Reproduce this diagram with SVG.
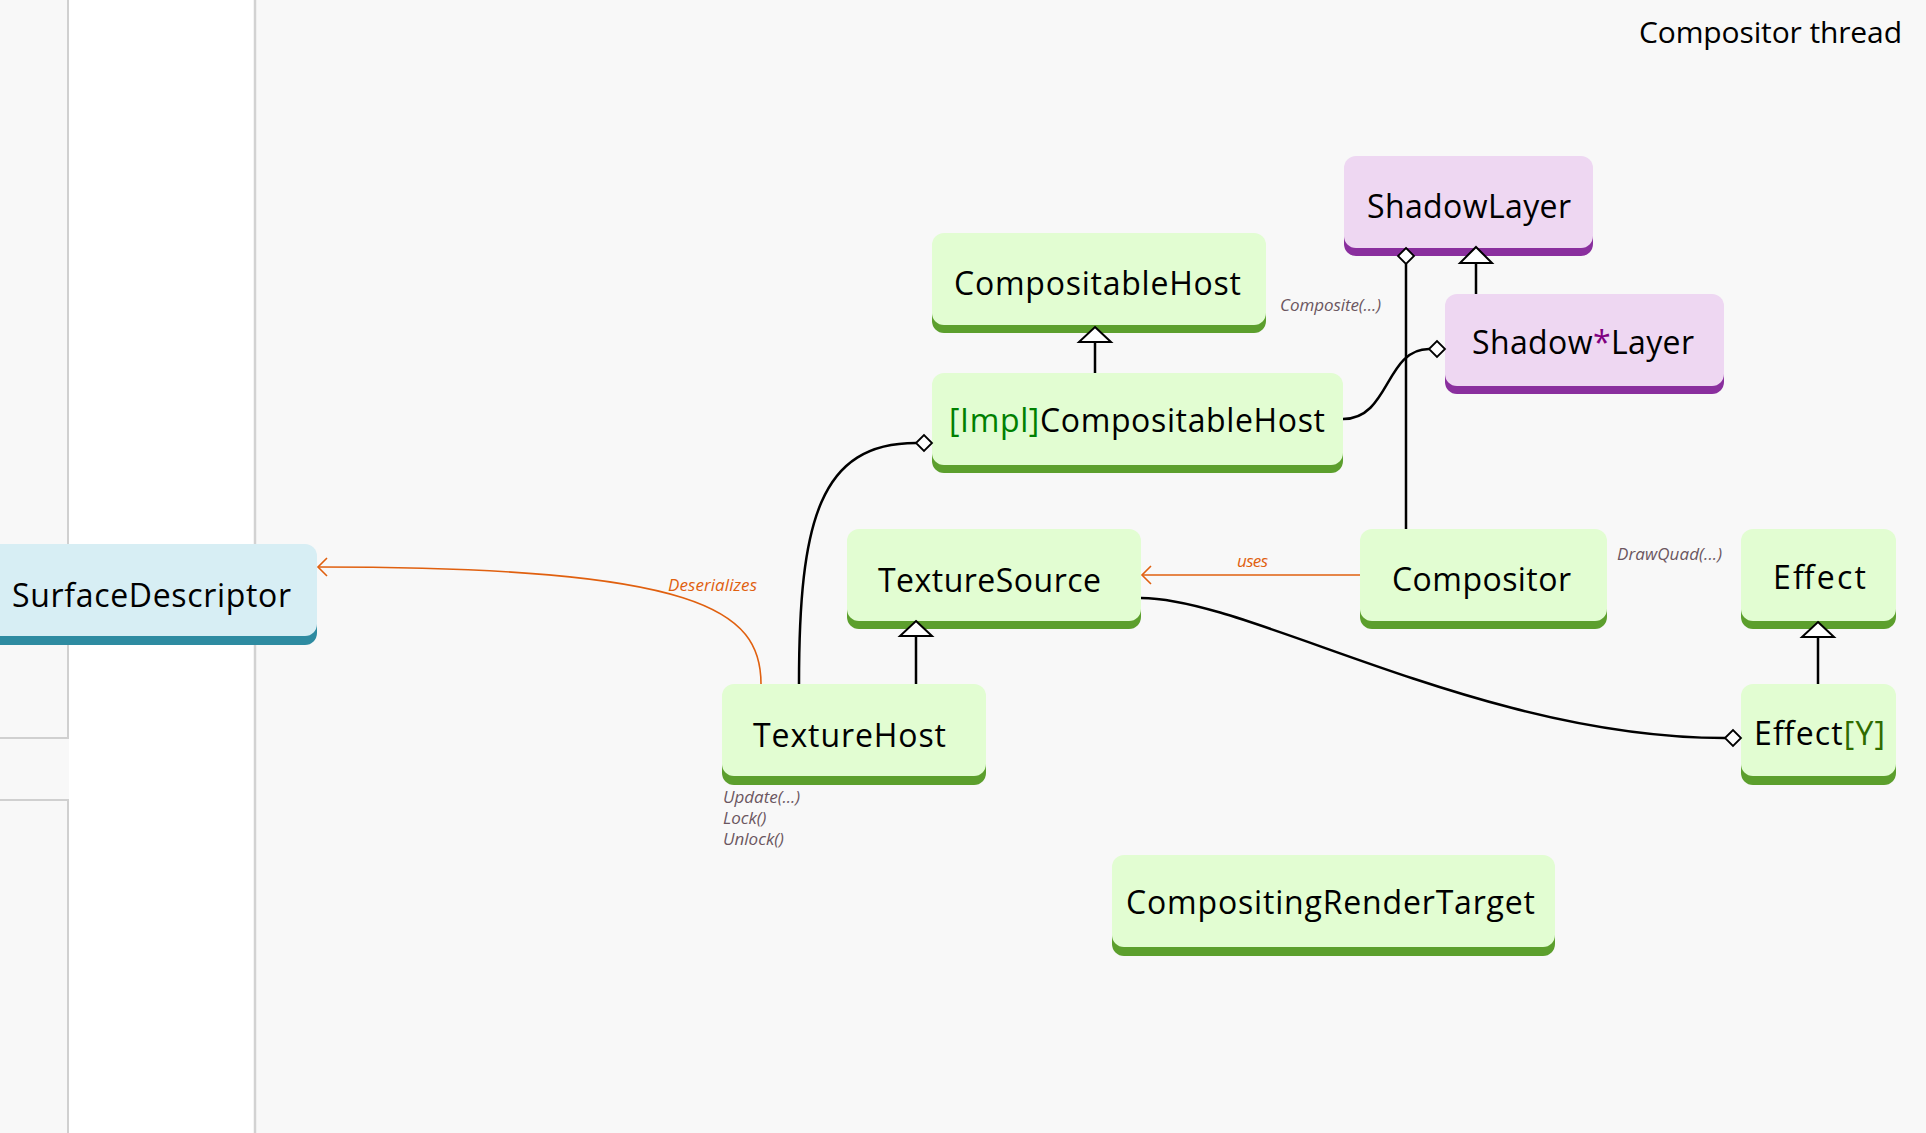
<svg xmlns="http://www.w3.org/2000/svg" width="1926" height="1133" viewBox="0 0 1926 1133">
  <defs>
    <style>
      .bg { fill: #f8f8f8; }
      .panel { fill: #f8f8f8; stroke: #d0d0d0; stroke-width: 2; }
      .col { fill: #ffffff; }
      .sep { stroke: #d2d2d2; stroke-width: 2.5; }
      .g-fill { fill: #e2fdd2; }
      .g-band { fill: #5c9f2d; }
      .p-fill { fill: #eed7f2; }
      .p-band { fill: #8a2f9e; }
      .b-fill { fill: #d7eef4; }
      .b-band { fill: #2e8ba1; }
      .name { font-family: "Open Sans", "Noto Sans", "DejaVu Sans", sans-serif; font-size: 32px; fill: #000000; }
      .title { font-family: "Open Sans", "Noto Sans", "DejaVu Sans", sans-serif; font-size: 30px; fill: #000000; }
      .impl { fill: #008000; }
      .ytag { fill: #2f6b00; }
      .star { fill: #800080; }
      .note { font-family: "Open Sans", "Noto Sans", "DejaVu Sans", sans-serif; font-size: 17px; font-style: italic; fill: #6b5660; }
      .olabel { font-family: "Open Sans", "Noto Sans", "DejaVu Sans", sans-serif; font-size: 17px; font-style: italic; fill: #e0600f; }
      .link { fill: none; stroke: #000000; stroke-width: 2.5; }
      .olink { fill: none; stroke: #e0600f; stroke-width: 1.6; }
      .tri { fill: #ffffff; stroke: #000000; stroke-width: 2; stroke-linejoin: miter; }
      .dia { fill: #ffffff; stroke: #000000; stroke-width: 1.8; }
    </style>
  </defs>

  <!-- canvas and side columns -->
  <rect class="bg" x="0" y="0" width="1926" height="1133"/>
  <rect class="col" x="69" y="0" width="186" height="1133"/>
  <line class="sep" x1="255" y1="0" x2="255" y2="1133"/>
  <path class="panel" d="M-5,-5 H68 V738 H-5 Z"/>
  <path class="panel" d="M-5,800 H68 V1140 H-5 Z"/>

  <text class="title" x="1639" y="43" textLength="263">Compositor thread</text>

  <!-- nodes -->
  <g id="surface-descriptor">
    <rect class="b-band" x="-12" y="553" width="329" height="92" rx="12"/>
    <rect class="b-fill" x="-12" y="544" width="329" height="92" rx="12"/>
    <text class="name" x="12" y="607" textLength="279">SurfaceDescriptor</text>
  </g>

  <g id="compositable-host">
    <rect class="g-band" x="932" y="241" width="334" height="92" rx="12"/>
    <rect class="g-fill" x="932" y="233" width="334" height="92" rx="12"/>
    <text class="name" x="954" y="295" textLength="287">CompositableHost</text>
    <text class="note" x="1280" y="311" textLength="101">Composite(...)</text>
  </g>

  <g id="impl-compositable-host">
    <rect class="g-band" x="932" y="381" width="411" height="92" rx="12"/>
    <rect class="g-fill" x="932" y="373" width="411" height="92" rx="12"/>
    <text class="name" x="949" y="432" textLength="376"><tspan class="impl">[Impl]</tspan>CompositableHost</text>
  </g>

  <g id="shadow-layer">
    <rect class="p-band" x="1344" y="164" width="249" height="92" rx="12"/>
    <rect class="p-fill" x="1344" y="156" width="249" height="92" rx="12"/>
    <text class="name" x="1367" y="218" textLength="204">ShadowLayer</text>
  </g>

  <g id="shadow-x-layer">
    <rect class="p-band" x="1445" y="302" width="279" height="92" rx="12"/>
    <rect class="p-fill" x="1445" y="294" width="279" height="92" rx="12"/>
    <text class="name" x="1472" y="354" textLength="222">Shadow<tspan class="star">*</tspan>Layer</text>
  </g>

  <g id="texture-source">
    <rect class="g-band" x="847" y="537" width="294" height="92" rx="12"/>
    <rect class="g-fill" x="847" y="529" width="294" height="92" rx="12"/>
    <text class="name" x="878" y="592" textLength="223">TextureSource</text>
  </g>

  <g id="texture-host">
    <rect class="g-band" x="722" y="693" width="264" height="92" rx="12"/>
    <rect class="g-fill" x="722" y="684" width="264" height="92" rx="12"/>
    <text class="name" x="753" y="747" textLength="193">TextureHost</text>
    <text class="note" x="723" y="803" textLength="77">Update(...)</text>
    <text class="note" x="723" y="824">Lock()</text>
    <text class="note" x="723" y="845">Unlock()</text>
  </g>

  <g id="compositor">
    <rect class="g-band" x="1360" y="537" width="247" height="92" rx="12"/>
    <rect class="g-fill" x="1360" y="529" width="247" height="92" rx="12"/>
    <text class="name" x="1392" y="591" textLength="179">Compositor</text>
    <text class="note" x="1617" y="560" textLength="105">DrawQuad(...)</text>
  </g>

  <g id="effect">
    <rect class="g-band" x="1741" y="537" width="155" height="92" rx="12"/>
    <rect class="g-fill" x="1741" y="529" width="155" height="92" rx="12"/>
    <text class="name" x="1773" y="589" textLength="93">Effect</text>
  </g>

  <g id="effect-y">
    <rect class="g-band" x="1741" y="693" width="155" height="92" rx="12"/>
    <rect class="g-fill" x="1741" y="684" width="155" height="92" rx="12"/>
    <text class="name" x="1754" y="745" textLength="131">Effect<tspan class="ytag">[Y]</tspan></text>
  </g>

  <g id="compositing-render-target">
    <rect class="g-band" x="1112" y="864" width="443" height="92" rx="12"/>
    <rect class="g-fill" x="1112" y="855" width="443" height="92" rx="12"/>
    <text class="name" x="1126" y="914" textLength="409">CompositingRenderTarget</text>
  </g>

  <!-- connectors, drawn over the node boxes so the heads sit on the bands -->
  <g id="connectors">
    <!-- generalisation -->
    <line class="link" x1="1095" y1="373" x2="1095" y2="342"/>
    <polygon class="tri" points="1095,327 1111,342 1079,342"/>
    <line class="link" x1="1476" y1="294" x2="1476" y2="263"/>
    <polygon class="tri" points="1476,247 1492,263 1460,263"/>
    <line class="link" x1="916" y1="684" x2="916" y2="636"/>
    <polygon class="tri" points="916,621 932,636 900,636"/>
    <line class="link" x1="1818" y1="684" x2="1818" y2="637"/>
    <polygon class="tri" points="1818,622 1834,637 1802,637"/>

    <!-- aggregation -->
    <line class="link" x1="1406" y1="529" x2="1406" y2="264"/>
    <polygon class="dia" points="1406,248 1414,256 1406,264 1398,256"/>
    <path class="link" d="M1343,419 C1390,419 1385,349 1429,349"/>
    <polygon class="dia" points="1429,349 1437,341 1445,349 1437,357"/>
    <path class="link" d="M799,684 C799,520 820,443 916,443"/>
    <polygon class="dia" points="916,443 924,435 932,443 924,451"/>
    <path class="link" d="M1141,598 C1250,598 1480,738 1725,738"/>
    <polygon class="dia" points="1725,738 1733,730 1741,738 1733,746"/>

    <!-- dependencies -->
    <line class="olink" x1="1360" y1="575" x2="1143" y2="575"/>
    <polyline class="olink" points="1151,566 1142,575 1151,584"/>
    <text class="olabel" x="1237" y="567" textLength="31">uses</text>
    <path class="olink" d="M761,684 C761,610 700,567 319,567"/>
    <polyline class="olink" points="327,558 318,567 327,576"/>
    <text class="olabel" x="668" y="591" textLength="89">Deserializes</text>
  </g>
</svg>
